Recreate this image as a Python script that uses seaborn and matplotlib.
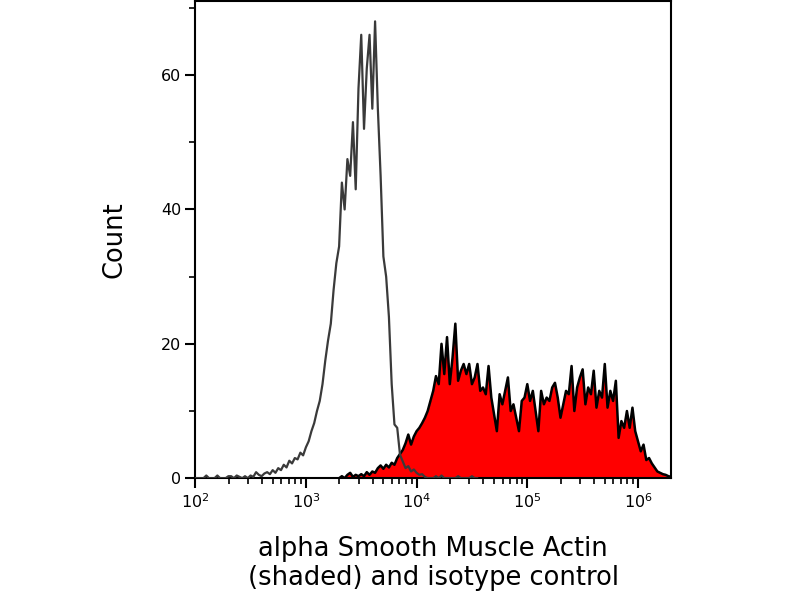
import numpy as np
import pandas as pd
import matplotlib
matplotlib.use("Agg")
import matplotlib.pyplot as plt
import seaborn as sns
from matplotlib.ticker import LogLocator, MultipleLocator

# =========================================
# DATA (counts per channel, log10 channel grid)
# =========================================

STEP = 0.025

iso_start = 2.0
iso_counts = [
    0, 0, 0, 0, 0.4, 0, 0, 0, 0.4, 0,
    0, 0, 0.3, 0.3, 0, 0.4, 0.2, 0, 0.3, 0,
    0.4, 0.2, 0.9, 0.5, 0.3, 0.7, 0.9, 0.6, 1.2, 0.8,
    1.5, 1.2, 2.0, 1.6, 2.6, 2.2, 3.0, 2.8, 3.8, 3.4,
    4.6, 5.5, 7.0, 8.2, 10.0, 11.5, 14.0, 17.5, 20.5, 23.0,
    28.0, 32.0, 34.5, 44.0, 40.0, 47.5, 45.0, 53.0, 43.0, 58.0,
    66.0, 52.0, 61.0, 66.0, 55.0, 68.0, 55.0, 45.0, 33.0, 30.0,
    24.0, 14.0, 8.0, 7.5, 3.5, 2.5, 1.5, 1.8, 1.0, 1.3,
    0.8, 0.5, 0.6, 0.2, 0, 0, 0, 0.3, 0, 0.4,
    0, 0, 0, 0, 0, 0.3, 0, 0, 0, 0, 0.3, 0, 0,
]

pos_start = 3.3
pos_counts = [
    0, 0.3, 0, 0.5, 0.8, 0.2, 0.5, 0.3, 0.6, 0.3,
    0.9, 0.5, 1.0, 0.8, 1.5, 1.9, 1.4, 2.0, 1.6, 2.3,
    2.0, 3.0, 3.6, 4.2, 5.2, 6.5, 5.0, 6.2, 7.0, 7.5,
    8.2, 9.0, 10.0, 11.5, 13.0, 15.2, 14.0, 20.0, 15.5, 21.0,
    14.0, 18.0, 23.0, 14.5, 16.0, 17.0, 15.5, 17.0, 14.0, 15.0,
    17.0, 13.0, 13.5, 12.5, 16.7, 12.0, 9.5, 7.0, 12.5, 11.0,
    13.0, 15.0, 10.0, 11.0, 9.0, 7.0, 11.5, 12.0, 14.0, 11.5,
    13.0, 10.0, 7.0, 13.0, 11.0, 12.0, 11.5, 13.5, 14.2, 12.0,
    9.0, 11.0, 13.0, 12.5, 16.7, 10.0, 13.5, 15.0, 16.2, 11.0,
    13.5, 12.5, 16.0, 10.5, 13.0, 12.0, 17.0, 10.5, 13.0, 11.5,
    14.5, 6.0, 8.5, 7.5, 10.0, 7.5, 10.5, 7.0, 5.5, 4.0,
    5.0, 2.7, 3.0, 2.2, 1.6, 1.0, 0.8, 0.6, 0.5, 0.3, 0.2,
]

x_label = "alpha Smooth Muscle Actin\n(shaded) and isotype control"
y_label = "Count"

iso_df = pd.DataFrame({
    "fl": 10 ** (iso_start + STEP * np.arange(len(iso_counts))),
    "count": iso_counts,
})
pos_df = pd.DataFrame({
    "fl": 10 ** (pos_start + STEP * np.arange(len(pos_counts))),
    "count": pos_counts,
})

# =========================================
# PLOT
# =========================================

sns.set_style("ticks")
plt.rcParams["font.family"] = ["DejaVu Sans"]
plt.rcParams["text.color"] = "black"
plt.rcParams["axes.labelcolor"] = "black"
plt.rcParams["xtick.color"] = "black"
plt.rcParams["ytick.color"] = "black"

fig = plt.figure(figsize=(8, 6), dpi=100)
ax = fig.add_axes([0.244, 0.203, 0.595, 0.795])

ax.fill_between(pos_df["fl"], pos_df["count"], color="#ff0000", lw=0, zorder=2)
sns.lineplot(data=pos_df, x="fl", y="count", color="black", lw=1.8,
             estimator=None, ax=ax, zorder=3)
sns.lineplot(data=iso_df, x="fl", y="count", color="#3a3a3a", lw=1.6,
             estimator=None, ax=ax, zorder=4)

ax.set_xscale("log")
ax.set_xlim(100, 10 ** 6.3)
ax.set_ylim(0, 71)

ax.yaxis.set_major_locator(MultipleLocator(20))
ax.yaxis.set_minor_locator(MultipleLocator(10))
ax.xaxis.set_major_locator(LogLocator(base=10))
ax.xaxis.set_minor_locator(LogLocator(base=10, subs=np.arange(2, 10)))

ax.tick_params(axis="both", which="major", direction="out", length=7,
               width=1.5, labelsize=11.5, pad=3, colors="black")
ax.tick_params(axis="both", which="minor", direction="out", length=4,
               width=1.2, colors="black")

for s in ax.spines.values():
    s.set_linewidth(1.5)
    s.set_color("black")

ax.set_xlabel(x_label, fontsize=18.5, labelpad=18, linespacing=1.15)
ax.set_ylabel(y_label, fontsize=18.5, labelpad=24)

fig.savefig("out.png", dpi=100)
